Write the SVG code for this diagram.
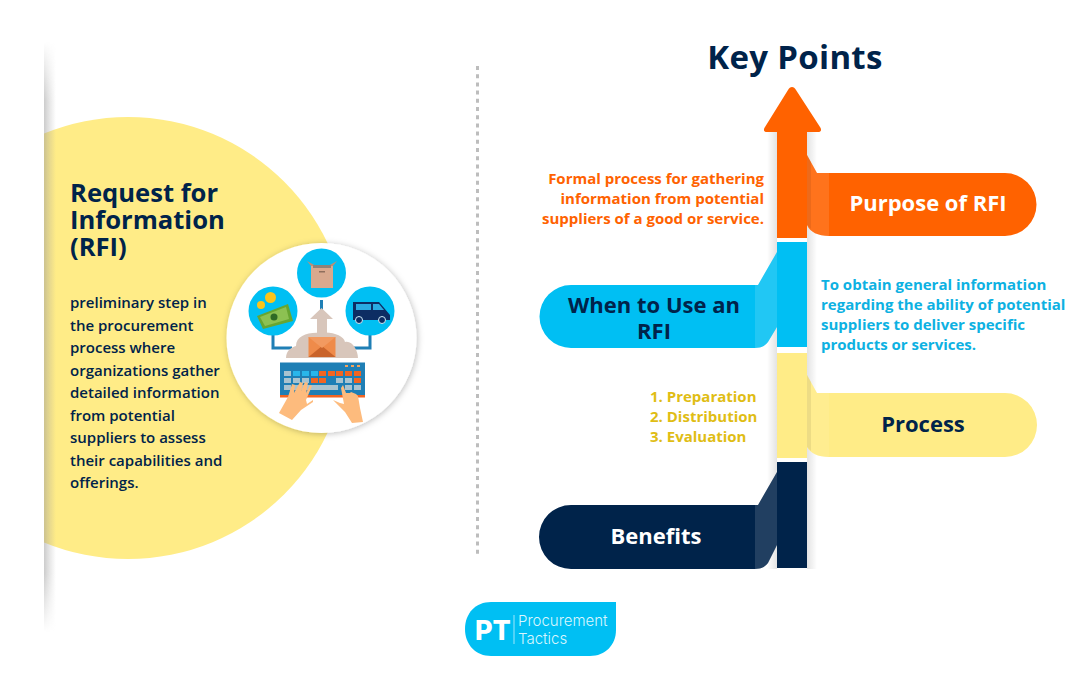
<svg xmlns="http://www.w3.org/2000/svg" width="1080" height="675" viewBox="0 0 1080 675">
<style>
text{font-family:"Open Sans","Noto Sans","Liberation Sans",sans-serif;font-weight:700}
.title{fill:#00234a;font-size:25.6px}
.body{fill:#00234a;font-size:15px;font-weight:600}
.tab{font-size:22px;text-anchor:middle}
.note{font-size:15px}
</style>
<defs>
<linearGradient id="sl" x1="1" x2="0" y1="0" y2="0"><stop offset="0" stop-color="#000" stop-opacity=".11"/><stop offset="1" stop-color="#000" stop-opacity="0"/></linearGradient>
<linearGradient id="sr" x1="0" x2="1" y1="0" y2="0"><stop offset="0" stop-color="#000" stop-opacity=".11"/><stop offset="1" stop-color="#000" stop-opacity="0"/></linearGradient>
<linearGradient id="bar" x1="0" x2="1" y1="0" y2="0"><stop offset="0" stop-color="#999" stop-opacity=".5"/><stop offset="1" stop-color="#aaa" stop-opacity="0"/></linearGradient>
<linearGradient id="fadeV" x1="0" x2="0" y1="0" y2="1"><stop offset="0" stop-color="#fff" stop-opacity="0"/><stop offset=".1" stop-color="#fff"/><stop offset=".9" stop-color="#fff"/><stop offset="1" stop-color="#fff" stop-opacity="0"/></linearGradient>
<mask id="fm"><rect x="40" y="42" width="20" height="590" fill="url(#fadeV)"/></mask>
<filter id="ds" x="-20%" y="-20%" width="140%" height="140%"><feDropShadow dx="1" dy="1" stdDeviation="3" flood-color="#000" flood-opacity=".25"/></filter>
<clipPath id="left"><rect x="44" y="100" width="400" height="480"/></clipPath>
</defs>

<g id="left-panel">
<circle cx="128" cy="338" r="221" fill="#ffec87" clip-path="url(#left)"/>
<rect x="44" y="42" width="12" height="590" fill="url(#bar)" mask="url(#fm)"/>
<text class="title" x="70" y="202">Request for</text>
<text class="title" x="70" y="229">Information</text>
<text class="title" x="70" y="256">(RFI)</text>
<text class="body" x="70" y="308">preliminary step in</text>
<text class="body" x="70" y="331">the procurement</text>
<text class="body" x="70" y="353">process where</text>
<text class="body" x="70" y="376">organizations gather</text>
<text class="body" x="70" y="398">detailed information</text>
<text class="body" x="70" y="421">from potential</text>
<text class="body" x="70" y="443">suppliers to assess</text>
<text class="body" x="70" y="466">their capabilities and</text>
<text class="body" x="70" y="488">offerings.</text>
</g>

<g id="rfi-icon">
<circle cx="321.500" cy="338" r="95" fill="#fff" filter="url(#ds)"/>
<path d="M273 335V348H292M370 335V348H352M321.500 300V312" fill="none" stroke="#1f7fb5" stroke-width="3"/>
<circle cx="321.500" cy="273" r="24.500" fill="#00bff3"/>
<circle cx="273" cy="311" r="24.500" fill="#00bff3"/>
<circle cx="370" cy="311" r="24.500" fill="#00bff3"/>
<path d="M311 265H333V288H311Z" fill="#d9a98e"/>
<path d="M307 261L316 266H311ZM337 261L328 266H333Z" fill="#b98f78"/><rect x="313" y="265" width="18" height="3" fill="#8f8278"/><rect x="319" y="271" width="6" height="1.500" fill="#8f6f5d"/>
<path d="M257 316L288 304L293 321L263 329Z" fill="#67a531"/><path d="M260 317L286 307L289 319L265 326Z" fill="#8cc152"/><circle cx="274" cy="317" r="3.500" fill="#2f6b25"/>
<circle cx="270.500" cy="297.500" r="5.500" fill="#fcc419"/><circle cx="261" cy="305" r="4" fill="#fcc419"/>
<path d="M353 302H379L390 315V320H353Z" fill="#0d2d63"/><rect x="356" y="304" width="15" height="6" fill="#29abe2"/><path d="M373 304H379L384 310H373Z" fill="#29abe2"/>
<circle cx="359" cy="320" r="3.500" fill="#0d2d63" stroke="#cfe9f5"/><circle cx="382" cy="320" r="3.500" fill="#0d2d63" stroke="#cfe9f5"/>
<path d="M286 358C286 350 292 347 296 346C296 336 308 332 320 333C332 331 344 336 345 342C352 340 358 350 358 358Z" fill="#d8c6bb"/>
<path d="M321.500 308L333 319H327V340H317V319H310Z" fill="#d8c6bb"/>
<rect x="308.500" y="337" width="27" height="20" fill="#ef8b4a"/><path d="M308.500 357L322 346L335.500 357Z" fill="#c9642b"/><path d="M308.500 337L322 348L335.500 337" fill="#f29a60"/>
<rect x="280" y="362.500" width="85" height="33" fill="#1f7fb5"/><rect x="280" y="395" width="85" height="2.500" fill="#f26522"/>
<g fill="#a9c3cf">
<rect x="284" y="371" width="7" height="5"/><rect x="284" y="378" width="7" height="5"/><rect x="284" y="385" width="7" height="5"/>
<rect x="293" y="378" width="7" height="5"/><rect x="302" y="378" width="7" height="5"/><rect x="293" y="385" width="45" height="5"/>
<rect x="336" y="378" width="7" height="5"/><rect x="345" y="378" width="7" height="5"/><rect x="345" y="385" width="7" height="5"/><rect x="354" y="385" width="7" height="5"/>
</g>
<g fill="#29b6ea"><rect x="293" y="371" width="7" height="5"/><rect x="302" y="371" width="7" height="5"/><rect x="311" y="371" width="7" height="5"/></g>
<g fill="#f26522"><rect x="319" y="371" width="7" height="5"/><rect x="328" y="371" width="7" height="5"/><rect x="336" y="371" width="7" height="5"/><rect x="345" y="371" width="7" height="5"/><rect x="354" y="371" width="7" height="5"/><rect x="311" y="378" width="7" height="5"/><rect x="319" y="378" width="7" height="5"/><rect x="354" y="378" width="7" height="5"/></g>
<g fill="#f5a45d"><rect x="345" y="365" width="3" height="2"/><rect x="351" y="365" width="3" height="2"/><rect x="357" y="365" width="3" height="2"/></g>
<path d="M279 413L288 397L292 384L295 385L294 393L300 382L303 383L301 391L305 382L308 383L306 393L310 385L312 386L306 400L307 404L313 400L313 402L301 410L292 420Z" fill="#fdbb7d"/>
<path d="M333 400L340 403L344 404L341 388L343 385L346 393L350 393L351 392L356 394L358 396L360 408L363 422L352 423L345 412Z" fill="#fdbb7d"/>
</g>

<line id="divider" x1="477.500" y1="66" x2="477.500" y2="556" stroke="#bdbdbd" stroke-width="3" stroke-dasharray="4 4.200"/>

<text id="heading" x="795" y="69" fill="#00234a" text-anchor="middle" style="font-size:33px;letter-spacing:.3px">Key Points</text>

<g id="connectors">
<rect x="767" y="132" width="10" height="437" fill="url(#sl)"/>
<rect x="807" y="132" width="10" height="437" fill="url(#sr)"/>
</g>

<g id="purpose-of-rfi">
<path d="M807 155L817 173H1005A31.500 31.500 0 0 1 1005 236H829C818 236 810 232 807 225Z" fill="#ff6200"/>
<path d="M807 155L817 173H829V236C818 236 810 232 807 225Z" fill="#fff" fill-opacity=".11"/>
<path d="M807 155L811 162V229L807 225Z" fill="#000" fill-opacity=".07"/>
<text class="tab" x="928" y="211" fill="#fff">Purpose of RFI</text>
<text class="note" x="764" y="184" fill="#ff6200" text-anchor="end">Formal process for gathering</text>
<text class="note" x="764" y="204" fill="#ff6200" text-anchor="end">information from potential</text>
<text class="note" x="764" y="224" fill="#ff6200" text-anchor="end">suppliers of a good or service.</text>
</g>

<g id="when-to-use">
<path d="M777 252L758 285H571A31.500 31.500 0 0 0 571 348H755C761 348 765 346 768 342L777 327Z" fill="#00bff3"/>
<path d="M777 252L758 285H755V348C761 348 765 346 768 342L777 327Z" fill="#fff" fill-opacity=".13"/>
<text class="tab" x="654" y="313" fill="#00234a">When to Use an</text>
<text class="tab" x="654" y="339" fill="#00234a">RFI</text>
<text class="note" x="821" y="290" fill="#0db1e2">To obtain general information</text>
<text class="note" x="821" y="310" fill="#0db1e2">regarding the ability of potential</text>
<text class="note" x="821" y="330" fill="#0db1e2">suppliers to deliver specific</text>
<text class="note" x="821" y="350" fill="#0db1e2">products or services.</text>
</g>

<g id="process">
<path d="M807 375L817 393H1005A32 32 0 0 1 1005 457H829C818 457 810 453 807 447Z" fill="#ffec87"/>
<path d="M807 375L817 393H829V457C818 457 810 453 807 447Z" fill="#fff" fill-opacity=".08"/>
<path d="M807 375L811 382V451L807 447Z" fill="#000" fill-opacity=".07"/>
<text class="tab" x="923" y="432" fill="#00234a">Process</text>
<text class="note" x="650" y="402" fill="#e0bd14">1. Preparation</text>
<text class="note" x="650" y="422" fill="#e0bd14">2. Distribution</text>
<text class="note" x="650" y="442" fill="#e0bd14">3. Evaluation</text>
</g>

<g id="benefits">
<path d="M777 472L758 505H571A32 32 0 0 0 571 569H755C761 569 765 567 768 563L777 545Z" fill="#00234a"/>
<path d="M777 472L758 505H755V569C761 569 765 567 768 563L777 545Z" fill="#fff" fill-opacity=".13"/>
<text class="tab" x="656" y="544" fill="#fff">Benefits</text>
</g>

<g id="arrow">
<path d="M777 132H767C764 132 763 130 765 127L788 90C790 86 794 86 796 90L820 127C822 130 821 132 818 132H807V238H777Z" fill="#ff6200"/>
<rect x="777" y="242" width="30" height="105" fill="#00bff3"/>
<rect x="777" y="353" width="30" height="105" fill="#ffec87"/>
<rect x="777" y="462" width="30" height="106" fill="#00234a"/>
</g>

<g id="logo">
<path d="M491 602H616V630C616 645 605 656 590 656H491C476 656 465 645 465 629C465 613 476 602 491 602Z" fill="#00bff3"/>
<text x="475" y="640" fill="#fff" style="font-size:27px;font-weight:800;font-family:Inter,'Liberation Sans',sans-serif">PT</text>
<line x1="514" y1="615" x2="514" y2="644" stroke="#9fe6fb" stroke-width="1"/>
<text x="518" y="626" fill="#d8f6fe" style="font-size:15px;font-weight:300;font-family:Inter,sans-serif">Procurement</text>
<text x="518" y="644" fill="#d8f6fe" style="font-size:15px;font-weight:300;font-family:Inter,sans-serif">Tactics</text>
</g>
</svg>
